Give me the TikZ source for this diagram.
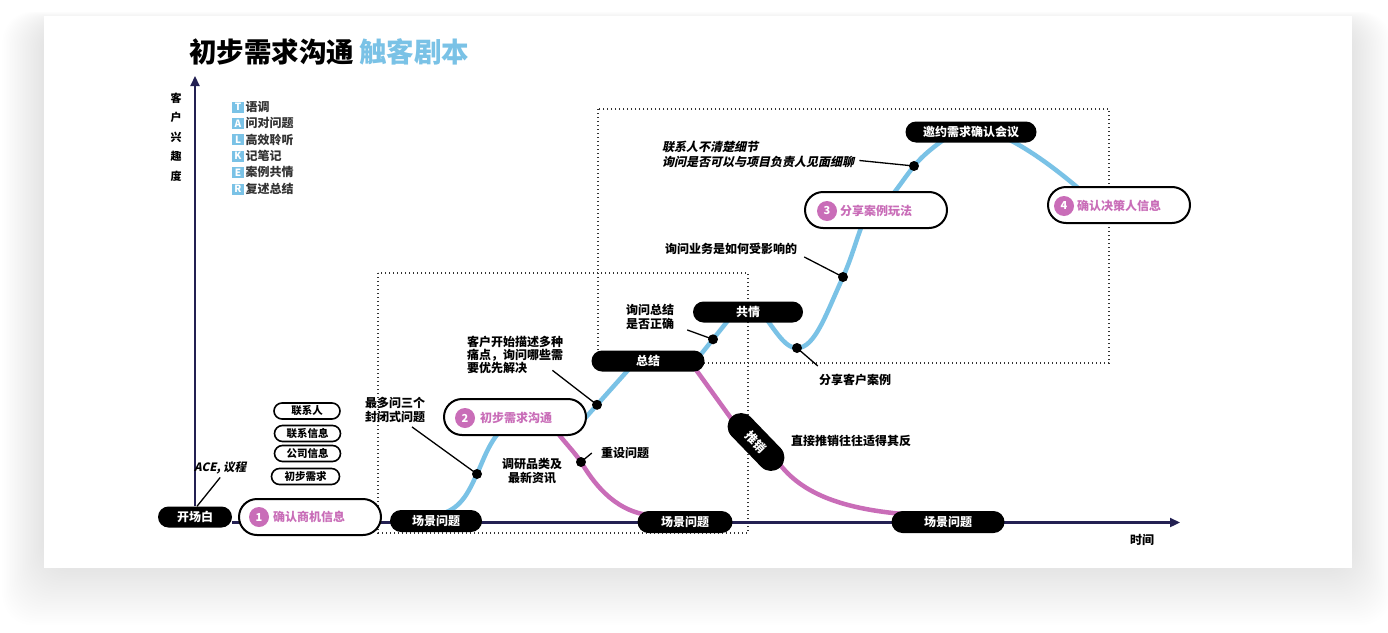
\documentclass[tikz,border=0pt]{standalone}
\usepackage{fontspec}
\setmainfont{Noto Sans CJK SC}
\newfontfamily\slfont[FakeSlant=0.22, BoldFeatures={FakeSlant=0.22}]{Noto Sans CJK SC}
\usetikzlibrary{arrows.meta,shapes.misc,calc}
\definecolor{tblue}{HTML}{7AC2E6}
\definecolor{tpink}{HTML}{C96DB8}
\definecolor{navy}{HTML}{232052}
\definecolor{dgray}{HTML}{333333}
\pgfdeclarelayer{back}
\pgfdeclarelayer{mid}
\pgfsetlayers{back,mid,main}
\begin{document}
\begin{tikzpicture}[x=1pt,y=-1pt,
 bpill/.style={rounded rectangle, fill=black, text=white, font=\bfseries\fontsize{12}{12}\selectfont, minimum height=21pt, inner sep=0pt},
 opill/.style={rounded rectangle, draw=black, line width=2pt, fill=white, minimum width=142pt, minimum height=36pt, inner sep=0pt},
 spill/.style={rounded rectangle, draw=black, line width=1.6pt, fill=white, minimum width=66pt, minimum height=16pt, inner sep=0pt, font=\bfseries\fontsize{10.5}{10.5}\selectfont},
 numc/.style={circle, fill=tpink, text=white, minimum size=20pt, inner sep=0pt, font=\bfseries\fontsize{11}{11}\selectfont},
 ptext/.style={text=tpink, font=\bfseries\fontsize{12}{12}\selectfont, inner sep=0pt, anchor=west},
 lbl/.style={font=\bfseries\fontsize{12}{14}\selectfont, inner sep=0pt, text=black},
 dot/.style={circle, fill=black, minimum size=10pt, inner sep=0pt},
 leader/.style={draw=black, line width=1.3pt},
 bcurve/.style={draw=tblue, line width=4.5pt},
 pcurve/.style={draw=tpink, line width=4.5pt},
 axisline/.style={draw=navy, line width=2.2pt, -{Triangle[length=10pt,width=9pt]}},
 dotbox/.style={draw=dgray, line width=1.2pt, dash pattern=on 1.2pt off 2.8pt},
 legbox/.style={fill=tblue, text=white, minimum width=12pt, minimum height=11pt, inner sep=0pt, font=\bfseries\fontsize{10}{10}\selectfont},
 legtext/.style={anchor=west, inner sep=0pt, text=dgray, font=\bfseries\fontsize{12}{12}\selectfont}
]
\useasboundingbox (0,0) rectangle (1388,632);

% title
\node[anchor=west, inner sep=0pt, font=\bfseries\fontsize{27.5}{30}\selectfont] (ttl1) at (189,52) {初步需求沟通};
\node[anchor=west, inner sep=0pt, text=tblue, font=\bfseries\fontsize{27.5}{30}\selectfont] (ttl2) at (359,52) {触客剧本};

% y label
\node[lbl, align=center, font=\bfseries\fontsize{11}{19.5}\selectfont] (ylab) at (176,137) {客\\户\\兴\\趣\\度};

% legend
\foreach \l/\t/\yy [count=\k] in {T/语调/107, A/问对问题/123.3, L/高效聆听/139.6, K/记笔记/156, E/案例共情/172.3, R/复述总结/189} {
  \node[legbox] (lg\k) at (238,\yy) {\l};
  \node[legtext] (lt\k) at (245.5,\yy) {\t};
}

% pills
\node[bpill, minimum width=74pt] (kc) at (195,517) {开场白};
\node[opill] (p1) at (310,517) {};
\node[numc] (n1) at (259,517) {1};
\node[ptext] (pt1) at (273,517) {确认商机信息};
\node[bpill, minimum width=92pt, minimum height=22pt] (s1) at (436,521) {场景问题};
\node[opill] (p2) at (515,417) {};
\node[numc] (n2) at (465,418) {2};
\node[ptext] (pt2) at (480,418) {初步需求沟通};
\node[bpill, minimum width=95pt, minimum height=22pt] (s2) at (685,522) {场景问题};
\node[bpill, minimum width=113pt] (zj) at (648,361) {总结};
\node[bpill, minimum width=110pt] (gq) at (748,312) {共情};
\node[bpill, minimum width=70pt, minimum height=27pt, rotate=-46] (tx) at (756,442) {推销};
\node[bpill, minimum width=113pt, minimum height=22pt] (s3) at (948,522) {场景问题};
\node[opill] (p3) at (876,210) {};
\node[numc] (n3) at (827,211) {3};
\node[ptext] (pt3) at (840,211) {分享案例玩法};
\node[bpill, minimum width=131pt] (yy) at (971,132) {邀约需求确认会议};
\node[opill] (p4) at (1119,205) {};
\node[numc] (n4) at (1064,206) {4};
\node[ptext] (pt4) at (1077,206) {确认决策人信息};

% small pills
\node[spill] (c1) at (307,411) {联系人};
\node[spill] (c2) at (307.5,433.5) {联系信息};
\node[spill] (c3) at (307.5,453.5) {公司信息};
\node[spill, minimum width=68pt] (c4) at (305.5,476.5) {初步需求};

% dots
\node[dot] (d1) at (477,474) {};
\node[dot] (d2) at (597,404.8) {};
\node[dot] (d3) at (713,339.3) {};
\node[dot] (d4) at (797,348) {};
\node[dot] (d5) at (843,277) {};
\node[dot] (d6) at (914,166) {};
\node[dot] (d7) at (581,462) {};

% labels
\node[lbl, font=\slfont\bfseries\fontsize{11.5}{12}\selectfont, anchor=west] (ace) at (194,468) {ACE, 议程};
\node[lbl, align=center] (l1) at (395,410) {最多问三个\\封闭式问题};
\node[lbl, align=center] (l2) at (532,471) {调研品类及\\最新资讯};
\node[lbl] (l3) at (625,453) {重设问题};
\node[lbl, align=left, anchor=west, font=\bfseries\fontsize{12}{13.3}\selectfont] (l4) at (467,355) {客户开始描述多种\\痛点，询问哪些需\\要优先解决};
\node[lbl, align=left] (l5) at (650,317) {询问总结\\是否正确};
\node[lbl] (l6) at (731,249) {询问业务是如何受影响的};
\node[lbl] (l7) at (855,380) {分享客户案例};
\node[lbl, align=left, anchor=west, font=\slfont\bfseries\fontsize{12}{15}\selectfont] (l8) at (662,154.5) {联系人不清楚细节\\询问是否可以与项目负责人见面细聊};
\node[lbl] (l9) at (851,441) {直接推销往往适得其反};
\node[lbl] (tm) at (1142,540) {时间};

\coordinate (ytip) at (195,76);
\coordinate (xtip) at (1180,522.5);

\begin{pgfonlayer}{back}
\fill[white] (0,0) rectangle (1388,632);
\foreach \i in {1,...,26} {
  \fill[black, opacity=0.0045, rounded corners=30pt] (44-1.6*\i,22-0.4*\i) rectangle (1352+1.5*\i,568+2.2*\i);
}
\fill[white] (44,16) rectangle (1352,568);
\draw[dotbox] (378,273) rectangle (748,533);
\draw[dotbox] (598,109) rectangle (1109,363);
\draw[axisline] (kc.north) -- (ytip);
\draw[axisline] ([yshift=-5.5pt]kc.east) -- (xtip);
\end{pgfonlayer}

\begin{pgfonlayer}{mid}
\draw[bcurve] ($(s1)+(5,-7)$) .. controls (463,508) and (470,488) .. (d1.center) .. controls (483,461) and (488,445) .. ($(p2)+(-15,14)$);
\draw[bcurve] ($(p2)+(64,8)$) -- ($(zj)+(-19,8)$);
\draw[bcurve] ($(zj)+(50,-3)$) -- ($(gq)+(-18,6)$);
\draw[bcurve] ($(gq)+(17,5)$) .. controls (780,338) and (787,348) .. (d4.center) .. controls (815,348) and (826,314) .. (d5.center) .. controls (852,257) and (856,240) .. ($(p3)+(-12,10)$);
\draw[bcurve] ($(p3)+(14,-12)$) .. controls (898,188) and (906,176) .. (d6.center) .. controls (924,154) and (935,146) .. ($(yy)+(-25,6)$);
\draw[bcurve] ($(yy)+(35,6)$) .. controls (1030,150) and (1055,168) .. ($(p4)+(-35,-12)$);
\draw[pcurve] ($(p2)+(40,12)$) .. controls (563,441) and (573,450) .. (d7.center) .. controls (592,480) and (612,510) .. ($(s2)+(-37,-7)$);
\draw[pcurve] ($(zj)+(46,6)$) -- ($(tx)+(-18,-14)$);
\draw[pcurve] ($(tx)+(18,14)$) .. controls (795,490) and (835,508) .. ($(s3)+(-45,-8)$);
% leaders
\draw[leader] ($(ace.south)+(0,3)$) -- ([xshift=2pt]kc.north);
\draw[leader] ($(l1.south)+(17,4)$) -- (d1.center);
\draw[leader] ($(l3.west)+(-9,0)$) -- (d7.center);
\draw[leader] ($(l4.south east)+(-11,-4)$) -- (d2.center);
\draw[leader] ($(l5.south east)+(13,0)$) -- (d3.center);
\draw[leader] ($(l6.south east)+(7,2)$) -- (d5.center);
\draw[leader] (d4.center) -- ($(l7.north west)+(-1,-8)$);
\draw[leader] ($(l8.east)+(5,6)$) -- (d6.center);
\end{pgfonlayer}
\end{tikzpicture}
\end{document}
